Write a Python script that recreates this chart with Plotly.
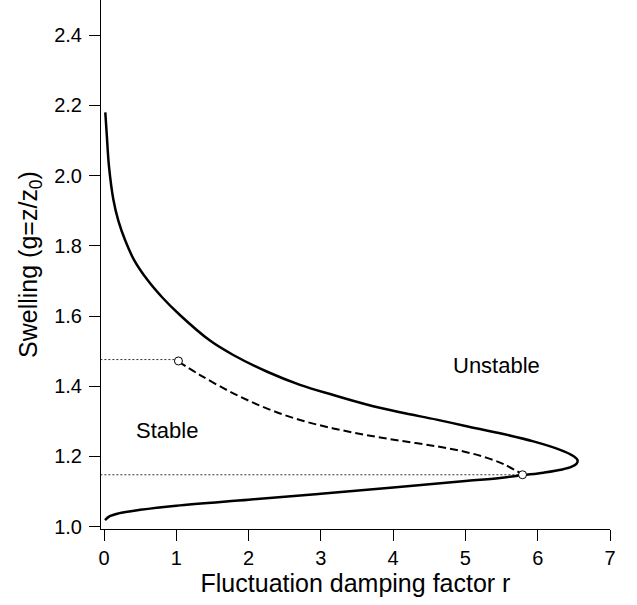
import plotly.graph_objects as go

# Upper (unstable boundary) branch, from top-left to the nose
upper_r = [0.018, 0.037, 0.069, 0.13, 0.20, 0.29, 0.415, 0.60, 0.81, 1.05, 1.466, 1.788, 2.25, 2.711,
           3.172, 3.633, 4.094, 4.6, 5.0, 5.48, 5.94, 6.31, 6.47, 6.55]
upper_g = [2.180, 2.121, 2.026, 1.931, 1.870, 1.817, 1.760, 1.703, 1.652, 1.603, 1.530, 1.489, 1.442, 1.404,
           1.375, 1.348, 1.326, 1.305, 1.287, 1.266, 1.243, 1.219, 1.204, 1.190]
# Lower branch, from the nose back to r ~ 0
lower_r = [6.54, 6.47, 6.34, 6.08, 5.80, 5.48, 5.0, 4.0, 3.0, 2.0, 1.0, 0.5, 0.2, 0.08, 0.014]
lower_g = [1.180, 1.171, 1.163, 1.154, 1.147, 1.139, 1.130, 1.112, 1.094, 1.077, 1.060, 1.048, 1.038, 1.030, 1.019]
# Dashed curve between the two critical points
dash_r = [1.03, 1.328, 1.788, 2.25, 2.711, 3.172, 3.633, 4.094, 4.6, 5.0, 5.3, 5.55, 5.79]
dash_g = [1.470, 1.432, 1.380, 1.337, 1.304, 1.280, 1.261, 1.245, 1.229, 1.213, 1.196, 1.176, 1.149]
# Critical points (open circles) and guide levels
crit_r = [1.03, 5.79]
crit_g = [1.472, 1.148]
guide_g = [1.476, 1.148]

xticks = [0, 1, 2, 3, 4, 5, 6, 7]
yticks = [1.0, 1.2, 1.4, 1.6, 1.8, 2.0, 2.2, 2.4]

FONT = "Liberation Sans, Arial, sans-serif"

fig = go.Figure()
for gy, rx in zip(guide_g, crit_r):
    fig.add_trace(go.Scatter(x=[-0.05, rx], y=[gy, gy], mode="lines",
                             line=dict(color="#333", width=1, dash="2px,2px"),
                             showlegend=False, hoverinfo="skip"))
fig.add_trace(go.Scatter(x=upper_r + lower_r, y=upper_g + lower_g, mode="lines",
                         line=dict(color="black", width=2.5, shape="spline", smoothing=1.0),
                         showlegend=False))
fig.add_trace(go.Scatter(x=dash_r, y=dash_g, mode="lines",
                         line=dict(color="black", width=2, dash="8px,4px", shape="spline", smoothing=1.0),
                         showlegend=False))
fig.add_trace(go.Scatter(x=crit_r, y=crit_g, mode="markers",
                         marker=dict(symbol="circle", size=8, color="white",
                                     line=dict(color="black", width=1)),
                         showlegend=False))

fig.add_annotation(x=0.87, y=1.275, text="Stable", showarrow=False,
                   font=dict(family=FONT, size=22, color="black"))
fig.add_annotation(x=5.43, y=1.458, text="Unstable", showarrow=False,
                   font=dict(family=FONT, size=22, color="black"))

fig.update_layout(
    width=637, height=605,
    margin=dict(l=101, r=27, t=0, b=76),
    paper_bgcolor="white", plot_bgcolor="white",
    font=dict(family=FONT, color="black"),
)
fig.update_xaxes(range=[-0.0415, 7.0], tickvals=xticks, ticktext=[str(v) for v in xticks],
                 showgrid=False, zeroline=False, showline=True, linecolor="black", linewidth=1,
                 ticks="outside", ticklen=11, tickcolor="black", tickwidth=1,
                 tickfont=dict(size=20), title=dict(text="Fluctuation damping factor r",
                                                    font=dict(size=25), standoff=2))
fig.update_yaxes(range=[0.9935, 2.5], tickvals=yticks, ticktext=[f"{v:.1f}" for v in yticks],
                 showgrid=False, zeroline=False, showline=True, linecolor="black", linewidth=1,
                 ticks="outside", ticklen=11, tickcolor="black", tickwidth=1, ticklabelstandoff=3,
                 tickfont=dict(size=20), title=dict(text="Swelling (g=z/z<sub>0</sub>)",
                                                    font=dict(size=25), standoff=9))

fig.write_html("out.html")
